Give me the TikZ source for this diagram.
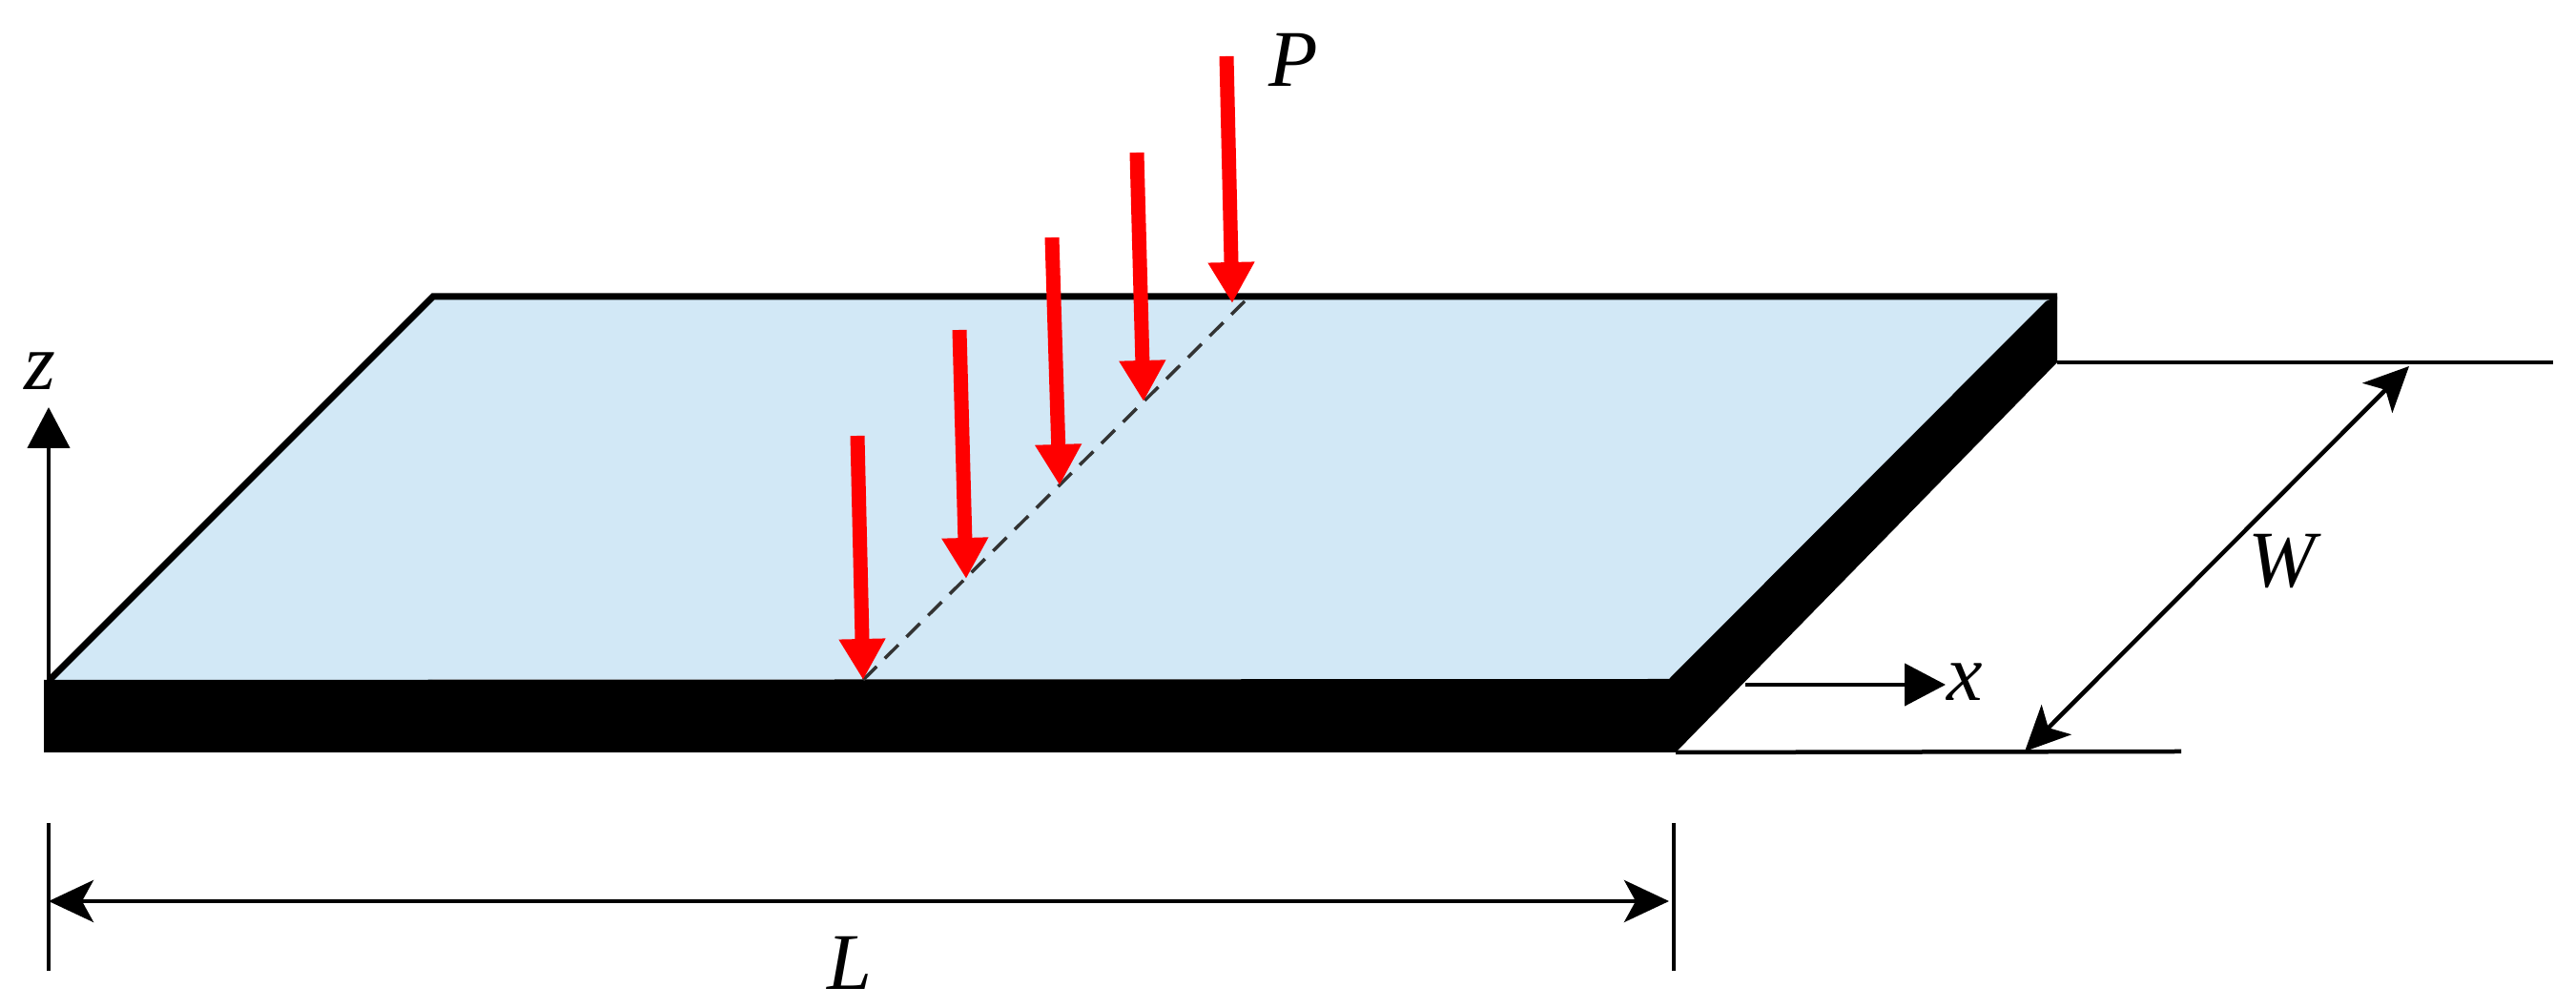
\documentclass[tikz,border=0pt]{standalone}
\usepackage{fontspec}
\setmainfont{Liberation Serif}
\usetikzlibrary{arrows.meta}
\definecolor{plateblue}{RGB}{210,232,246}
\definecolor{loadred}{RGB}{255,0,0}
\begin{document}
\begin{tikzpicture}
    % Define styles for shapes
    \tikzstyle{label} = [inner sep=0pt, font=\fontsize{24}{24}\itshape\selectfont]
    \tikzstyle{thinline} = [line width=0.45mm, black]
    \tikzstyle{axis} = [thinline, -{Triangle[length=4.3mm,width=4.4mm]}]
    \tikzstyle{dimension} = [thinline, {Stealth[length=4.7mm,width=4.4mm,inset=1.2mm]}-{Stealth[length=4.7mm,width=4.4mm,inset=1.2mm]}]
    \tikzstyle{load} = [loadred, line width=1.5mm, -{Triangle[length=4.3mm,width=4.6mm]}]

    \useasboundingbox (0,0) rectangle (27.01,10.57);

    % Corners of the plate
    \coordinate (frontleft) at (0.52,3.44);
    \coordinate (backleft) at (4.54,7.46);
    \coordinate (backright) at (21.45,7.41);
    \coordinate (frontright) at (17.50,3.45);
    \coordinate (edgetopleft) at (0.46,3.44);
    \coordinate (edgebotleft) at (0.46,2.68);
    \coordinate (edgebotright) at (17.57,2.68);
    \coordinate (edgebotback) at (21.57,6.77);
    \coordinate (edgetopback) at (21.57,7.46);

    % Draw the plate and its black edge
    \fill[plateblue] (frontleft) -- (backleft) -- (edgetopback) -- (frontright) -- cycle;
    \fill[black] (edgetopleft) -- (frontright) -- (backright) -- (edgetopback) -- (edgebotback) -- (edgebotright) -- (edgebotleft) -- cycle;
    \draw[line width=0.7mm, line join=miter] (frontleft) -- (backleft) -- (edgetopback);

    % Line under the loads
    \coordinate (lineend) at (13.05,7.41);
    \coordinate (tipa) at (9.05,3.44);
    \draw[line width=0.35mm, black!80, dash pattern=on 2mm off 1.2mm] (tipa) -- (lineend);

    % Draw the red loads
    \coordinate (starta) at (8.99,6.00);
    \coordinate (startb) at (10.06,7.11);
    \coordinate (tipb) at (10.13,4.50);
    \coordinate (startc) at (11.03,8.08);
    \coordinate (tipc) at (11.11,5.48);
    \coordinate (startd) at (11.92,8.97);
    \coordinate (tipd) at (11.99,6.36);
    \coordinate (starte) at (12.86,9.98);
    \coordinate (tipe) at (12.92,7.39);
    \draw[load] (starta) -- (tipa);
    \draw[load] (startb) -- (tipb);
    \draw[load] (startc) -- (tipc);
    \draw[load] (startd) -- (tipd);
    \draw[load] (starte) -- (tipe);
    \node[label] (loadname) at (13.56,9.94) {P};

    % Draw the axes
    \coordinate (origin) at (0.51,3.44);
    \coordinate (ztip) at (0.51,6.30);
    \draw[axis] (origin) -- (ztip);
    \node[label] (zname) at (0.42,6.68) {z};
    \coordinate (xstart) at (18.30,3.39);
    \coordinate (xtip) at (20.40,3.39);
    \draw[axis] (xstart) -- (xtip);
    \node[label] (xname) at (20.60,3.42) {x};

    % Draw the dimension L
    \coordinate (ltopa) at (0.51,1.94);
    \coordinate (lbota) at (0.51,0.39);
    \coordinate (ltopb) at (17.55,1.94);
    \coordinate (lbotb) at (17.55,0.39);
    \coordinate (la) at (0.51,1.12);
    \coordinate (lb) at (17.50,1.12);
    \draw[thinline] (ltopa) -- (lbota);
    \draw[thinline] (ltopb) -- (lbotb);
    \draw[dimension] (la) -- node[label, pos=0.5, xshift=-0.10cm, yshift=-0.65cm] (lname) {L} (lb);

    % Draw the dimension W
    \coordinate (wlineend) at (26.77,6.77);
    \coordinate (blineend) at (22.87,2.69);
    \coordinate (wa) at (21.23,2.69);
    \coordinate (wb) at (25.26,6.73);
    \draw[thinline] (edgebotback) -- (wlineend);
    \draw[thinline] (edgebotright) -- (blineend);
    \draw[dimension] (wa) -- (wb);
    \node[label] (wname) at (23.93,4.68) {W};
\end{tikzpicture}
\end{document}
